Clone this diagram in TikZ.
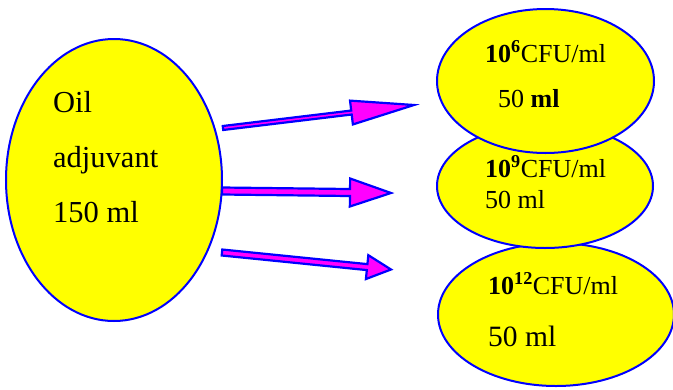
\documentclass[tikz,border=0pt]{standalone}
\usepackage{fontspec}
\setmainfont{Liberation Serif}
\usetikzlibrary{shapes.geometric,calc}
\definecolor{cyel}{RGB}{255,255,0}
\definecolor{cblue}{RGB}{0,0,255}
\definecolor{cmag}{RGB}{255,0,255}
\tikzset{
  blob/.style={ellipse, draw=cblue, fill=cyel, line width=2pt, inner sep=0pt},
  lbl/.style={anchor=base west, inner sep=0pt, text=black},
  blockarr/.style={draw=cblue, fill=cmag, line width=2.2pt, line join=miter},
}
\newcommand\blkarrow[5]{%
  \path ($(#2)!#5!(#1)$) coordinate (hb);
  \draw[blockarr] ($(#1)!#3!90:(#2)$) -- ($(hb)!#3!-90:(#1)$) -- ($(hb)!#4!-90:(#1)$)
    -- (#2) -- ($(hb)!#4!90:(#1)$) -- ($(hb)!#3!90:(#1)$) -- ($(#1)!#3!-90:(#2)$) -- cycle;
}
\newcommand\bigf{\fontsize{30.5}{36}\selectfont}
\newcommand\midf{\fontsize{26}{31}\selectfont}
\newcommand\botf{\fontsize{29.5}{35}\selectfont}
\begin{document}
\begin{tikzpicture}[x=1pt,y=-1pt]
\useasboundingbox (0,0) rectangle (673,389);
% left ellipse
\node[blob, minimum width=216pt, minimum height=282pt] (oil) at (114,180) {};
\node[lbl] (t1) at (53,112) {\bigf Oil};
\node[lbl] (t2) at (53,167) {\bigf adjuvant};
\node[lbl] (t3) at (53,222) {\bigf 150 ml};
% right ellipses (back to front)
\node[blob, minimum width=236pt, minimum height=143pt] (e12) at (556,314.5) {};
\node[blob, minimum width=216pt, minimum height=124pt] (e9) at (545,186) {};
\node[blob, minimum width=217pt, minimum height=144pt] (e6) at (545.5,81) {};
\node[lbl] (a1) at (485,62) {\midf\textbf{10\textsuperscript{6}}CFU/ml};
\node[lbl] (a2) at (498,107) {\midf 50 \textbf{ml}};
\node[lbl] (b1) at (485,177) {\midf\textbf{10\textsuperscript{9}}CFU/ml};
\node[lbl] (b2) at (485,208) {\midf 50 ml};
\node[lbl] (c1) at (488,294) {\midf\textbf{10\textsuperscript{12}}CFU/ml};
\node[lbl] (c2) at (488,346) {\botf 50 ml};
% arrows
\coordinate (s1) at (223,128);
\coordinate (p1) at (414,105);
\coordinate (s2) at (222,191);
\coordinate (p2) at (391,193);
\coordinate (s3) at (222,252.5);
\coordinate (p3) at (391,269.5);
\blkarrow{s1}{p1}{2pt}{12pt}{63pt}
\blkarrow{s2}{p2}{3.5pt}{14pt}{41pt}
\blkarrow{s3}{p3}{3pt}{12pt}{24pt}
\end{tikzpicture}
\end{document}
